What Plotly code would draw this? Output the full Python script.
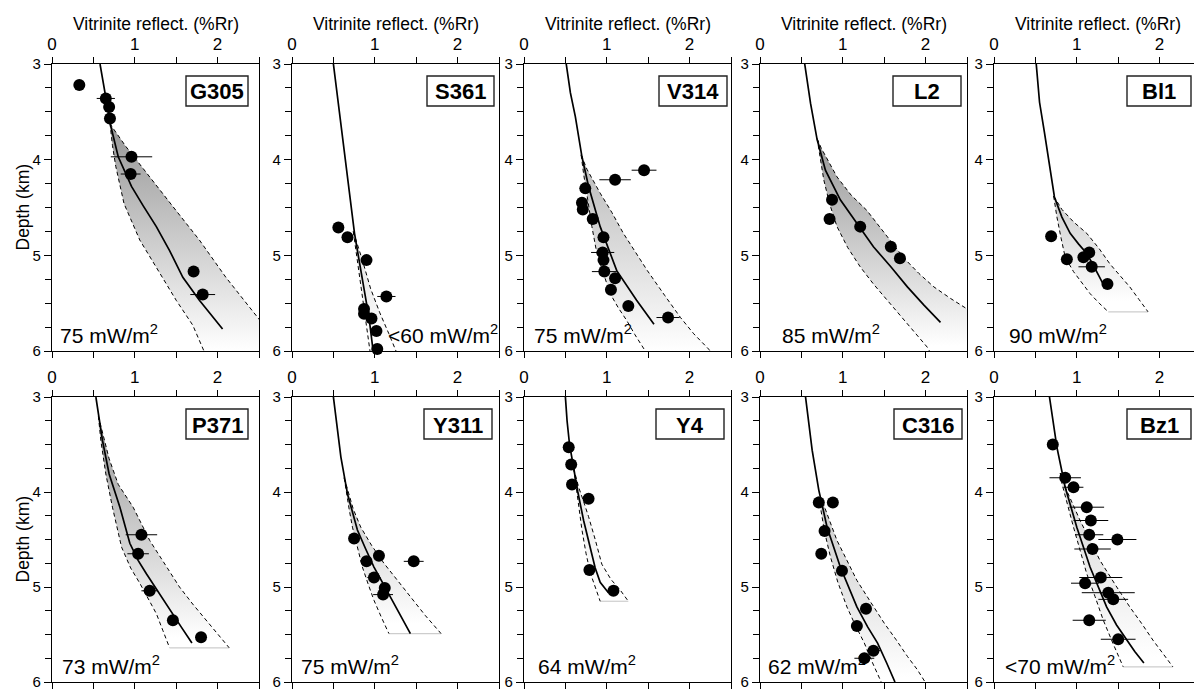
import plotly.graph_objects as go

W, H = 1194, 689
FONT = "Liberation Sans, Arial, sans-serif"

# ---------------- data ----------------
wells = ["G305", "S361", "V314", "L2", "Bl1", "P371", "Y311", "Y4", "C316", "Bz1"]
heat_flow = ["75 mW/m<sup>2</sup>", "&lt;60 mW/m<sup>2</sup>", "75 mW/m<sup>2</sup>", "85 mW/m<sup>2</sup>",
             "90 mW/m<sup>2</sup>", "73 mW/m<sup>2</sup>", "75 mW/m<sup>2</sup>", "64 mW/m<sup>2</sup>",
             "62 mW/m<sup>2</sup>", "&lt;70 mW/m<sup>2</sup>"]
x_ticks = [0, 1, 2]
y_ticks = [3, 4, 5, 6]

# measured vitrinite reflectance (Ro), depth (km), Ro error
G305_ro = [0.33, 0.65, 0.69, 0.70, 0.96, 0.95, 1.71, 1.82]
G305_dep = [3.22, 3.36, 3.45, 3.57, 3.97, 4.15, 5.17, 5.41]
G305_err = [0, 0.11, 0, 0, 0.25, 0.12, 0, 0.15]
S361_ro = [0.56, 0.67, 0.90, 1.14, 0.87, 0.87, 0.96, 1.02, 1.03]
S361_dep = [4.71, 4.81, 5.05, 5.43, 5.56, 5.61, 5.66, 5.79, 5.98]
S361_err = [0, 0, 0, 0.11, 0, 0, 0, 0, 0]
V314_ro = [1.45, 1.10, 0.74, 0.70, 0.71, 0.83, 0.96, 0.95, 0.96, 0.97, 1.10, 1.05, 1.26, 1.74]
V314_dep = [4.11, 4.21, 4.30, 4.45, 4.52, 4.62, 4.81, 4.97, 5.05, 5.17, 5.24, 5.36, 5.53, 5.65]
V314_err = [0.15, 0.19, 0, 0, 0, 0, 0, 0.14, 0, 0.15, 0, 0, 0, 0.14]
L2_ro = [0.87, 0.84, 1.21, 1.58, 1.69]
L2_dep = [4.42, 4.62, 4.70, 4.91, 5.03]
L2_err = [0, 0, 0, 0, 0]
Bl1_ro = [0.69, 0.88, 1.08, 1.15, 1.18, 1.37]
Bl1_dep = [4.80, 5.04, 5.02, 4.97, 5.12, 5.30]
Bl1_err = [0, 0, 0, 0, 0.16, 0]
P371_ro = [1.08, 1.04, 1.18, 1.46, 1.80]
P371_dep = [4.45, 4.65, 5.04, 5.35, 5.53]
P371_err = [0.19, 0.13, 0.10, 0, 0]
Y311_ro = [0.75, 1.05, 1.47, 0.90, 0.99, 1.12, 1.10]
Y311_dep = [4.49, 4.67, 4.73, 4.73, 4.90, 5.01, 5.08]
Y311_err = [0, 0, 0.12, 0, 0.08, 0, 0.12]
Y4_ro = [0.54, 0.57, 0.58, 0.78, 0.79, 1.08]
Y4_dep = [3.53, 3.71, 3.92, 4.07, 4.82, 5.04]
Y4_err = [0, 0, 0, 0, 0, 0]
C316_ro = [0.71, 0.88, 0.78, 0.74, 0.99, 1.28, 1.17, 1.37, 1.26]
C316_dep = [4.11, 4.11, 4.41, 4.65, 4.83, 5.23, 5.41, 5.67, 5.75]
C316_err = [0, 0, 0, 0, 0, 0, 0, 0.08, 0.12]
Bz1_ro = [0.71, 0.86, 0.96, 1.12, 1.17, 1.15, 1.49, 1.19, 1.29, 1.10, 1.38, 1.44, 1.15, 1.50]
Bz1_dep = [3.50, 3.85, 3.95, 4.16, 4.30, 4.45, 4.50, 4.60, 4.90, 4.96, 5.06, 5.13, 5.35, 5.55]
Bz1_err = [0, 0.19, 0.12, 0.21, 0.21, 0.17, 0.23, 0.22, 0.26, 0.17, 0.32, 0.18, 0.20, 0.21]

# modelled best-fit curve (solid) and lower / upper bounds (dashed)
G305_fit_ro = [0.58, 0.62, 0.66, 0.71, 0.80, 0.96, 1.10, 1.26, 1.42, 1.58, 1.78, 2.06]
G305_fit_dep = [3.0, 3.2, 3.4, 3.65, 3.97, 4.28, 4.48, 4.70, 4.95, 5.23, 5.47, 5.77]
G305_lo_ro = [0.70, 0.73, 0.77, 0.87, 1.06, 1.26, 1.50, 1.70, 1.82, 1.86]
G305_lo_dep = [3.62, 3.85, 4.07, 4.46, 4.84, 5.12, 5.47, 5.73, 5.96, 6.05]
G305_hi_ro = [0.70, 0.72, 0.89, 1.14, 1.46, 1.78, 2.10, 2.42, 2.49, 2.90]
G305_hi_dep = [3.62, 3.65, 3.86, 4.14, 4.49, 4.84, 5.23, 5.58, 5.66, 6.10]

S361_fit_ro = [0.50, 0.57, 0.645, 0.70, 0.755, 0.81, 0.87, 0.93, 0.98]
S361_fit_dep = [3.0, 3.5, 4.0, 4.4, 4.77, 5.05, 5.35, 5.65, 6.0]
S361_lo_ro = [0.74, 0.78, 0.83, 0.88, 0.92, 0.95]
S361_lo_dep = [4.75, 5.0, 5.3, 5.6, 5.85, 6.05]
S361_hi_ro = [0.74, 0.85, 0.95, 1.06, 1.17, 1.28]
S361_hi_dep = [4.75, 5.05, 5.35, 5.6, 5.82, 6.05]

V314_fit_ro = [0.51, 0.56, 0.62, 0.70, 0.78, 0.92, 1.12, 1.36, 1.57]
V314_fit_dep = [3.0, 3.3, 3.55, 3.97, 4.28, 4.70, 5.16, 5.47, 5.72]
V314_lo_ro = [0.69, 0.72, 0.77, 0.82, 0.88, 0.96, 1.04, 1.14, 1.24, 1.34, 1.45, 1.50]
V314_lo_dep = [3.95, 4.15, 4.42, 4.70, 4.98, 5.20, 5.40, 5.55, 5.68, 5.83, 5.98, 6.10]
V314_hi_ro = [0.69, 0.76, 0.92, 1.06, 1.20, 1.35, 1.49, 1.70, 1.89, 2.05, 2.23, 2.33]
V314_hi_dep = [3.95, 4.10, 4.35, 4.55, 4.77, 4.97, 5.16, 5.42, 5.65, 5.82, 5.98, 6.10]

L2_fit_ro = [0.54, 0.57, 0.61, 0.69, 0.79, 0.97, 1.17, 1.37, 1.58, 1.78, 1.98, 2.18]
L2_fit_dep = [3.0, 3.2, 3.41, 3.79, 4.11, 4.42, 4.67, 4.91, 5.12, 5.33, 5.52, 5.70]
L2_lo_ro = [0.69, 0.72, 0.77, 0.84, 0.93, 1.06, 1.21, 1.37, 1.54, 1.78, 2.02, 2.08]
L2_lo_dep = [3.78, 3.95, 4.21, 4.46, 4.70, 4.92, 5.12, 5.30, 5.47, 5.72, 5.96, 6.05]
L2_hi_ro = [0.69, 0.74, 0.93, 1.10, 1.29, 1.52, 1.74, 1.92, 2.10, 2.30, 2.50, 2.90]
L2_hi_dep = [3.78, 3.88, 4.18, 4.37, 4.53, 4.78, 5.03, 5.19, 5.33, 5.45, 5.56, 5.85]

Bl1_fit_ro = [0.51, 0.55, 0.61, 0.67, 0.73, 0.82, 0.92, 1.02, 1.12, 1.21, 1.30, 1.33]
Bl1_fit_dep = [3.0, 3.4, 3.72, 4.05, 4.39, 4.60, 4.77, 4.88, 4.98, 5.12, 5.26, 5.32]
Bl1_lo_ro = [0.72, 0.76, 0.81, 0.86, 0.96, 1.06, 1.16, 1.27, 1.38]
Bl1_lo_dep = [4.38, 4.60, 4.82, 5.02, 5.17, 5.29, 5.40, 5.50, 5.59]
Bl1_hi_ro = [0.72, 0.82, 0.96, 1.12, 1.27, 1.40, 1.52, 1.64, 1.75, 1.86]
Bl1_hi_dep = [4.38, 4.52, 4.65, 4.77, 4.93, 5.09, 5.21, 5.33, 5.46, 5.59]

P371_fit_ro = [0.53, 0.57, 0.61, 0.69, 0.82, 0.94, 1.04, 1.14, 1.28, 1.42, 1.56, 1.69]
P371_fit_dep = [3.0, 3.25, 3.46, 3.81, 4.16, 4.54, 4.72, 4.86, 5.05, 5.24, 5.42, 5.59]
P371_lo_ro = [0.56, 0.59, 0.65, 0.73, 0.84, 0.95, 1.06, 1.16, 1.26, 1.34, 1.42]
P371_lo_dep = [3.20, 3.46, 3.81, 4.16, 4.58, 4.80, 4.96, 5.12, 5.28, 5.46, 5.64]
P371_hi_ro = [0.56, 0.62, 0.69, 0.80, 0.98, 1.18, 1.36, 1.54, 1.70, 1.86, 2.00, 2.14]
P371_hi_dep = [3.20, 3.42, 3.65, 3.92, 4.16, 4.51, 4.76, 5.00, 5.18, 5.35, 5.50, 5.64]

Y311_fit_ro = [0.50, 0.54, 0.59, 0.67, 0.79, 0.89, 0.99, 1.11, 1.23, 1.33, 1.43]
Y311_fit_dep = [3.0, 3.3, 3.63, 4.02, 4.40, 4.60, 4.79, 4.98, 5.17, 5.33, 5.49]
Y311_lo_ro = [0.63, 0.65, 0.69, 0.73, 0.79, 0.85, 0.92, 0.99, 1.08, 1.17]
Y311_lo_dep = [3.85, 3.98, 4.18, 4.37, 4.58, 4.79, 4.97, 5.14, 5.32, 5.49]
Y311_hi_ro = [0.63, 0.67, 0.74, 0.83, 0.96, 1.11, 1.27, 1.43, 1.61, 1.80]
Y311_hi_dep = [3.85, 3.98, 4.18, 4.37, 4.56, 4.75, 4.93, 5.10, 5.30, 5.49]

Y4_fit_ro = [0.50, 0.52, 0.55, 0.60, 0.65, 0.72, 0.80, 0.86, 0.92, 1.02]
Y4_fit_dep = [3.0, 3.25, 3.5, 3.75, 4.0, 4.3, 4.6, 4.8, 4.95, 5.06]
Y4_lo_ro = [0.60, 0.65, 0.70, 0.75, 0.80, 0.86, 0.92]
Y4_lo_dep = [3.75, 4.10, 4.40, 4.65, 4.85, 5.00, 5.15]
Y4_hi_ro = [0.60, 0.66, 0.72, 0.78, 0.86, 0.94, 1.05, 1.16, 1.26]
Y4_hi_dep = [3.75, 3.95, 4.10, 4.26, 4.50, 4.76, 4.92, 5.03, 5.15]

C316_fit_ro = [0.55, 0.59, 0.63, 0.71, 0.81, 0.97, 1.17, 1.30, 1.42, 1.53, 1.63]
C316_fit_dep = [3.0, 3.3, 3.56, 3.98, 4.37, 4.79, 5.21, 5.42, 5.59, 5.80, 6.0]
C316_lo_ro = [0.70, 0.73, 0.78, 0.85, 0.94, 1.05, 1.15, 1.26, 1.36, 1.46, 1.49]
C316_lo_dep = [4.05, 4.16, 4.42, 4.68, 4.95, 5.21, 5.40, 5.59, 5.80, 6.0, 6.05]
C316_hi_ro = [0.70, 0.75, 0.84, 0.93, 1.05, 1.17, 1.33, 1.50, 1.64, 1.78, 1.90, 2.0, 2.03]
C316_hi_dep = [4.05, 4.09, 4.30, 4.51, 4.72, 4.93, 5.15, 5.38, 5.55, 5.73, 5.87, 6.0, 6.05]

Bz1_fit_ro = [0.67, 0.71, 0.76, 0.86, 1.00, 1.16, 1.36, 1.48, 1.60, 1.70, 1.81]
Bz1_fit_dep = [3.0, 3.25, 3.53, 3.95, 4.37, 4.79, 5.21, 5.40, 5.56, 5.68, 5.80]
Bz1_lo_ro = [0.80, 0.82, 0.96, 1.12, 1.22, 1.32, 1.44, 1.56]
Bz1_lo_dep = [3.80, 3.91, 4.37, 4.86, 5.10, 5.35, 5.60, 5.84]
Bz1_hi_ro = [0.80, 0.84, 1.04, 1.28, 1.46, 1.64, 1.78, 1.92, 2.04, 2.16]
Bz1_hi_dep = [3.80, 3.91, 4.30, 4.72, 4.97, 5.21, 5.38, 5.56, 5.70, 5.84]

g = globals()

# ---------------- layout geometry / style ----------------
col_x0 = [52, 292, 524, 760, 994]
unit_px = 82.8
row_top = [64, 397]
row_bot = [351, 682]
band_gray = [150, 222, 185, 150, 205, 150, 195, 228, 200, 212]
band_closed = [False, False, False, False, True, True, True, True, False, True]
box_w = [62, 67, 68, 68, 64, 62, 68, 68, 68, 64]
box_r = [11, 5, 4, 6, 10, 11, 7, 7, 5, 10]
hf_off = [6, None, 8, 20, 13, 8, 7, 12, 6, 9]

fig = go.Figure()
layout = dict(width=W, height=H, margin=dict(l=0, r=0, t=0, b=0, autoexpand=False),
              template="none",
              paper_bgcolor="white", plot_bgcolor="white", showlegend=False,
              font=dict(family=FONT, color="black"))
annotations = []
shapes = []

def px_x(p):
    return p / W

def px_y(p):
    return 1 - p / H

for i, w in enumerate(wells):
    r, c = divmod(i, 5)
    k = i + 1
    xa = "x" if k == 1 else f"x{k}"
    ya = "y" if k == 1 else f"y{k}"
    x0 = col_x0[c]
    x1 = min(x0 + 2.5 * unit_px, W)
    xmax = (x1 - x0) / unit_px
    top, bot = row_top[r], row_bot[r]

    layout["xaxis" if k == 1 else f"xaxis{k}"] = dict(
        domain=[px_x(x0), px_x(x1)], range=[0, xmax], side="top", anchor=ya, automargin=False,
        showline=True, linecolor="black", linewidth=1.3, mirror="ticks",
        ticks="outside", ticklen=6, tickwidth=1.3, tickcolor="black",
        tickvals=x_ticks, ticktext=[str(v) for v in x_ticks], ticklabeloverflow="allow",
        minor=dict(tickvals=[0.5, 1.5, 2.5], ticks="outside", ticklen=6, tickwidth=1.3, tickcolor="black"),
        showgrid=False, zeroline=False, tickfont=dict(size=17, family=FONT), fixedrange=True)
    layout["yaxis" if k == 1 else f"yaxis{k}"] = dict(
        domain=[px_y(bot), px_y(top)], range=[6, 3], anchor=xa, automargin=False,
        showline=True, linecolor="black", linewidth=1.3, mirror=(c != 4),
        ticks="outside", ticklen=7, tickwidth=1.3, tickcolor="black",
        tickvals=y_ticks, ticktext=[str(v) for v in y_ticks], ticklabeloverflow="allow",
        minor=dict(tickvals=[3.25, 3.5, 3.75, 4.25, 4.5, 4.75, 5.25, 5.5, 5.75],
                   ticks="outside", ticklen=6, tickwidth=1.3, tickcolor="black"),
        showgrid=False, zeroline=False, tickfont=dict(size=15, family=FONT), fixedrange=True)

    lo_ro, lo_d = g[f"{w}_lo_ro"], g[f"{w}_lo_dep"]
    hi_ro, hi_d = g[f"{w}_hi_ro"], g[f"{w}_hi_dep"]
    gv = band_gray[i]
    start = lo_d[0]
    stop = max(lo_d[-1], hi_d[-1]) - 0.1
    fig.add_trace(go.Scatter(
        x=lo_ro + hi_ro[::-1], y=lo_d + hi_d[::-1], xaxis=xa, yaxis=ya,
        mode="lines", line=dict(width=0), fill="toself",
        fillgradient=dict(type="vertical", start=start, stop=stop,
                          colorscale=[[0, f"rgb({gv},{gv},{gv})"], [1, "rgb(255,255,255)"]]),
        hoverinfo="skip"))
    if band_closed[i]:
        fig.add_trace(go.Scatter(x=[lo_ro[-1], hi_ro[-1]], y=[lo_d[-1], hi_d[-1]], xaxis=xa, yaxis=ya,
                                 mode="lines", line=dict(color="rgb(205,205,205)", width=1.2),
                                 hoverinfo="skip"))
    for cr, cd in ((lo_ro, lo_d), (hi_ro, hi_d)):
        fig.add_trace(go.Scatter(x=cr, y=cd, xaxis=xa, yaxis=ya, mode="lines",
                                 line=dict(color="black", width=1, dash="4px,3px"), hoverinfo="skip"))
    fig.add_trace(go.Scatter(x=g[f"{w}_fit_ro"], y=g[f"{w}_fit_dep"], xaxis=xa, yaxis=ya, mode="lines",
                             line=dict(color="black", width=1.7), hoverinfo="skip"))
    fig.add_trace(go.Scatter(x=g[f"{w}_ro"], y=g[f"{w}_dep"], xaxis=xa, yaxis=ya, mode="markers",
                             marker=dict(color="black", size=12),
                             error_x=dict(type="data", array=g[f"{w}_err"], symmetric=True,
                                          color="black", thickness=1, width=0),
                             cliponaxis=False, hoverinfo="skip"))

    # well label box
    right = x0 + 2.5 * unit_px - box_r[i]
    left = right - box_w[i]
    btop, bbot = top + 12, top + 42
    shapes.append(dict(type="rect", xref="paper", yref="paper",
                       x0=px_x(left), x1=px_x(right), y0=px_y(bbot), y1=px_y(btop),
                       line=dict(color="#222", width=1.4), fillcolor="white", layer="above"))
    annotations.append(dict(xref="paper", yref="paper", x=px_x((left + right) / 2), y=px_y((btop + bbot) / 2 + 1),
                            text=f"<b>{w}</b>", showarrow=False, xanchor="center", yanchor="middle",
                            font=dict(size=22, family=FONT)))
    # heat flow
    if hf_off[i] is None:
        annotations.append(dict(xref="paper", yref="paper", x=px_x(x0 + 2.5 * unit_px + 1), y=px_y(bot - 2),
                                text=heat_flow[i], showarrow=False, xanchor="right", yanchor="bottom",
                                font=dict(size=21, family=FONT)))
    else:
        annotations.append(dict(xref="paper", yref="paper", x=px_x(x0 + hf_off[i]), y=px_y(bot - 2),
                                text=heat_flow[i], showarrow=False, xanchor="left", yanchor="bottom",
                                font=dict(size=21, family=FONT)))
    if r == 0:
        annotations.append(dict(xref="paper", yref="paper", x=px_x(x0 + 2.5 * unit_px / 2), y=px_y(24),
                                text="Vitrinite reflect. (%Rr)", showarrow=False, xanchor="center",
                                yanchor="middle", font=dict(size=17.5, family=FONT)))
    if c == 0:
        annotations.append(dict(xref="paper", yref="paper", x=px_x(22), y=px_y((top + bot) / 2),
                                text="Depth (km)", textangle=-90, showarrow=False, xanchor="center",
                                yanchor="middle", font=dict(size=17.5, family=FONT)))

layout["annotations"] = annotations
layout["shapes"] = shapes
fig.update_layout(**layout)
fig.write_html("out.html")
